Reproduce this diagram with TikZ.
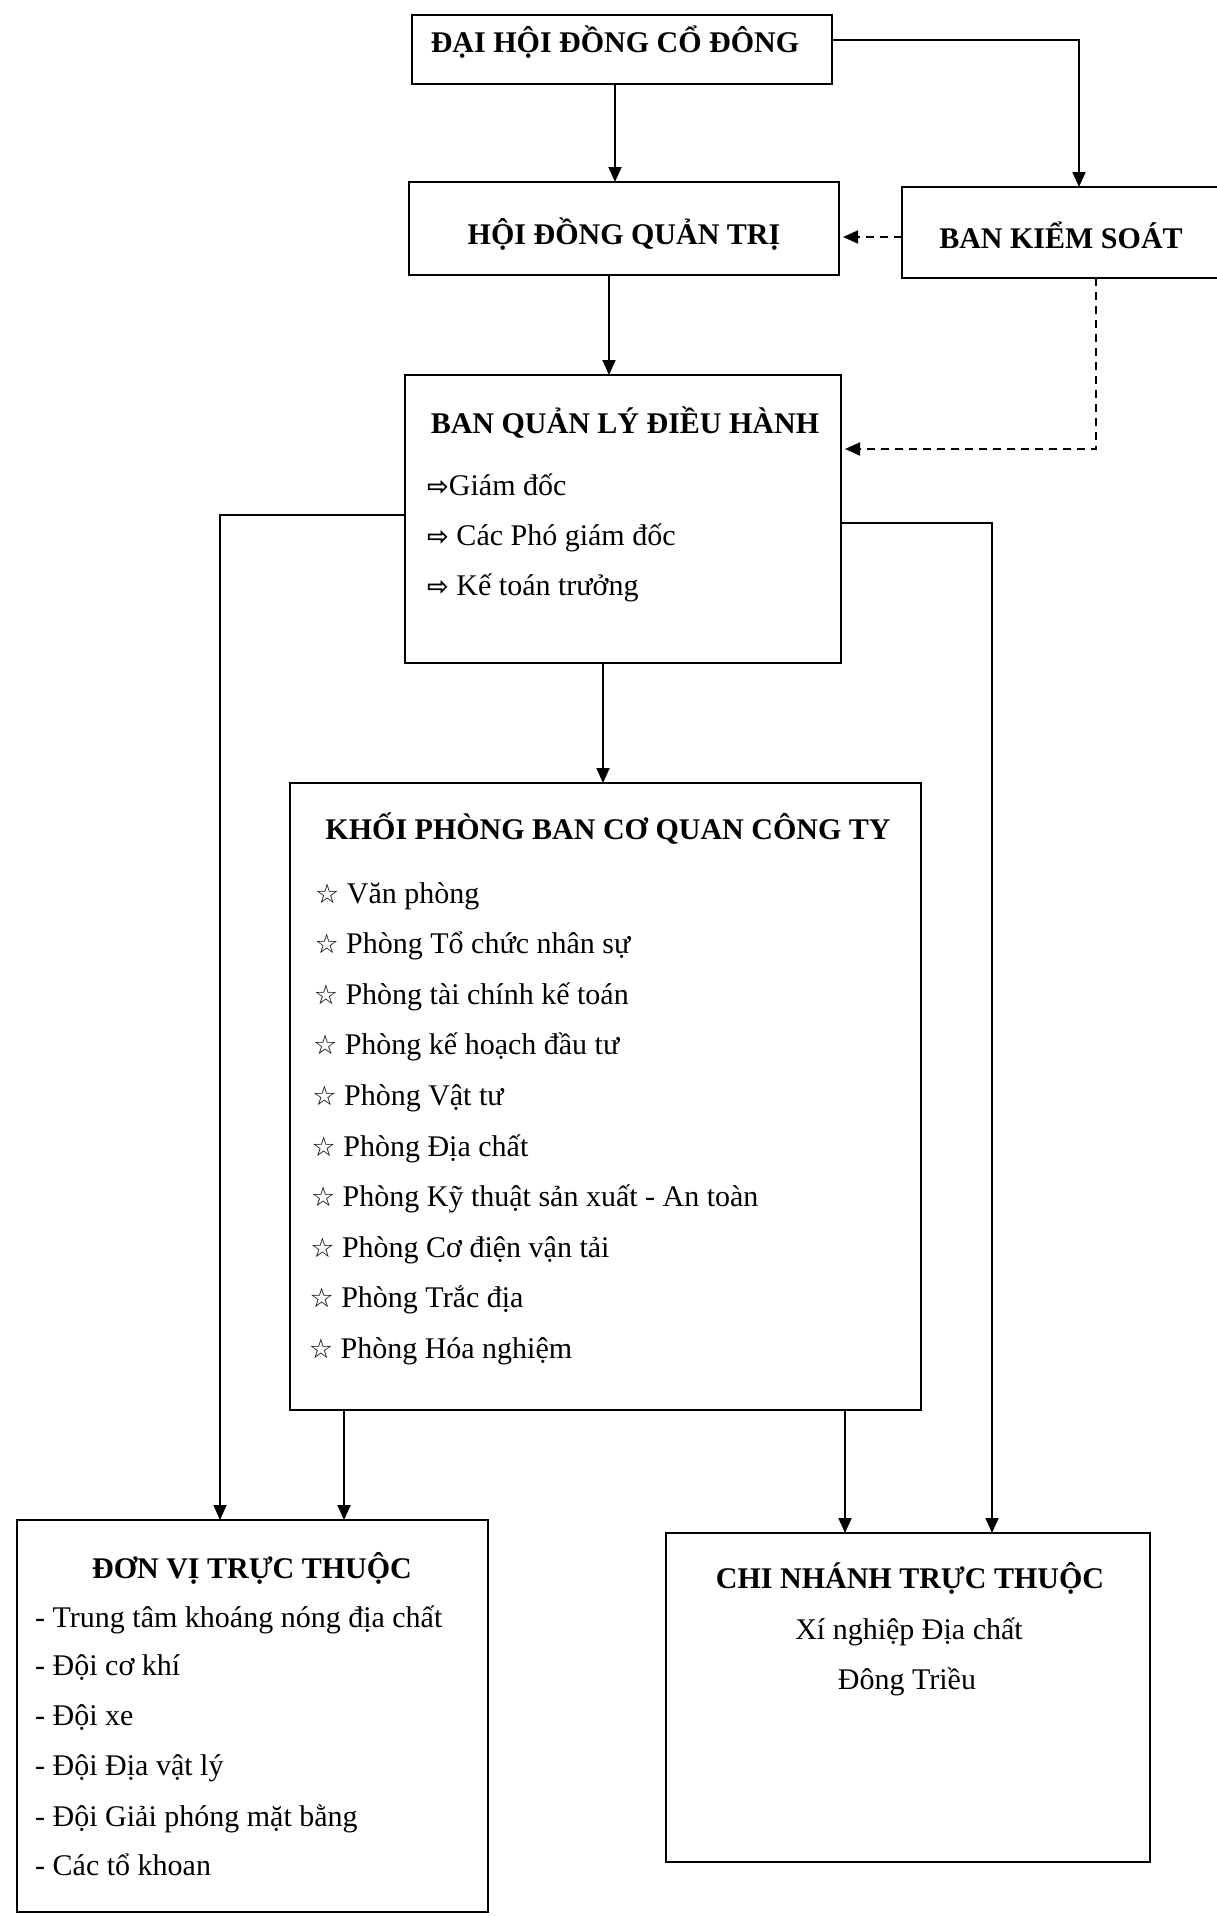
\documentclass[tikz,border=0pt]{standalone}
\usepackage{fontspec}
\setmainfont{Liberation Serif}
\newfontfamily\symf{DejaVu Sans}
\usetikzlibrary{arrows.meta}
\newcommand{\harrow}{{\symf\bfseries\fontsize{26}{30}\selectfont ⇨}}
\newcommand{\hstar}{{\symf\bfseries\fontsize{27}{30}\selectfont ☆}}
\begin{document}
\begin{tikzpicture}[x=1pt,y=-1pt,
  box/.style={draw, line width=1.8pt, rectangle, inner sep=0pt, outer sep=0pt},
  ttl/.style={anchor=base, font=\fontsize{30}{36}\selectfont\bfseries, inner sep=0pt},
  itm/.style={anchor=base west, font=\fontsize{30}{36}\selectfont, inner sep=0pt},
  ctr/.style={anchor=base, font=\fontsize{30}{36}\selectfont, inner sep=0pt},
  arr/.style={line width=1.8pt, -{Triangle[length=15pt,width=13pt]}},
  darr/.style={arr, dash pattern=on 8pt off 6pt, shorten >=4pt}]
\useasboundingbox (0,0) rectangle (1216,1916);
\fill[white] (0,0) rectangle (1216,1916);

% boxes
\node[box, minimum width=420pt, minimum height=69pt] (b1) at (622,49.5) {};
\node[box, minimum width=430pt, minimum height=93pt] (b2) at (624,228.5) {};
\node[box, minimum width=322pt, minimum height=91pt] (bks) at (1063,232.5) {};
\node[box, minimum width=436pt, minimum height=288pt] (bq) at (623,519) {};
\node[box, minimum width=631pt, minimum height=627pt] (kp) at (605.5,1096.5) {};
\node[box, minimum width=471pt, minimum height=392pt] (dv) at (252.5,1716) {};
\node[box, minimum width=484pt, minimum height=329pt] (cn) at (908,1697.5) {};

% titles
\node[ttl] (t1) at (615,53) {ĐẠI HỘI ĐỒNG CỔ ĐÔNG};
\node[ttl] (t2) at (624,244) {HỘI ĐỒNG QUẢN TRỊ};
\node[ttl] (t3) at (1061,248) {BAN KIỂM SOÁT};
\node[ttl] (t4) at (625,433) {BAN QUẢN LÝ ĐIỀU HÀNH};
\node[ttl] (t5) at (608,839) {KHỐI PHÒNG BAN CƠ QUAN CÔNG TY};
\node[ttl] (t6) at (252,1578) {ĐƠN VỊ TRỰC THUỘC};
\node[ttl] (t7) at (910,1588) {CHI NHÁNH TRỰC THUỘC};

% management items
\node[itm] (q1) at (427,495) {\harrow Giám đốc};
\node[itm] (q2) at (427,545) {\harrow\ Các Phó giám đốc};
\node[itm] (q3) at (427,595) {\harrow\ Kế toán trưởng};

% departments
\foreach \i/\txt in {0/Văn phòng, 1/Phòng Tổ chức nhân sự, 2/Phòng tài chính kế toán,
  3/Phòng kế hoạch đầu tư, 4/Phòng Vật tư, 5/Phòng Địa chất,
  6/Phòng Kỹ thuật sản xuất - An toàn, 7/Phòng Cơ điện vận tải,
  8/Phòng Trắc địa, 9/Phòng Hóa nghiệm}
  \node[itm] (k\i) at ({315-0.7*\i},{903+50.6*\i}) {\hstar\ \txt};

% units
\node[itm] (d1) at (35,1627) {- Trung tâm khoáng nóng địa chất};
\node[itm] (d2) at (35,1675) {- Đội cơ khí};
\node[itm] (d3) at (35,1725) {- Đội xe};
\node[itm] (d4) at (35,1775) {- Đội Địa vật lý};
\node[itm] (d5) at (35,1826) {- Đội Giải phóng mặt bằng};
\node[itm] (d6) at (35,1875) {- Các tổ khoan};

% branch
\node[ctr] (c1) at (909,1639) {Xí nghiệp Địa chất};
\node[ctr] (c2) at (907,1689) {Đông Triều};

% connector columns/rows
\coordinate (xA) at (615,0);
\coordinate (xB) at (1079,0);
\coordinate (xC) at (609,0);
\coordinate (xD) at (1096,0);
\coordinate (xE) at (220,0);
\coordinate (xF) at (992,0);
\coordinate (xG) at (603,0);
\coordinate (xH) at (344,0);
\coordinate (xI) at (845,0);
\coordinate (yA) at (0,40);
\coordinate (yB) at (0,237);
\coordinate (yC) at (0,449);
\coordinate (yD) at (0,515);
\coordinate (yE) at (0,523);

\draw[arr] (b1.south -| xA) -- (b2.north -| xA);
\draw[arr] (b1.east |- yA) -| (bks.north -| xB);
\draw[darr] (bks.west |- yB) -- (b2.east |- yB);
\draw[arr] (b2.south -| xC) -- (bq.north -| xC);
\draw[darr] (bks.south -| xD) |- (bq.east |- yC);
\draw[arr] (bq.west |- yD) -| (dv.north -| xE);
\draw[arr] (bq.east |- yE) -| (cn.north -| xF);
\draw[arr] (bq.south -| xG) -- (kp.north -| xG);
\draw[arr] (kp.south -| xH) -- (dv.north -| xH);
\draw[arr] (kp.south -| xI) -- (cn.north -| xI);
\end{tikzpicture}
\end{document}
